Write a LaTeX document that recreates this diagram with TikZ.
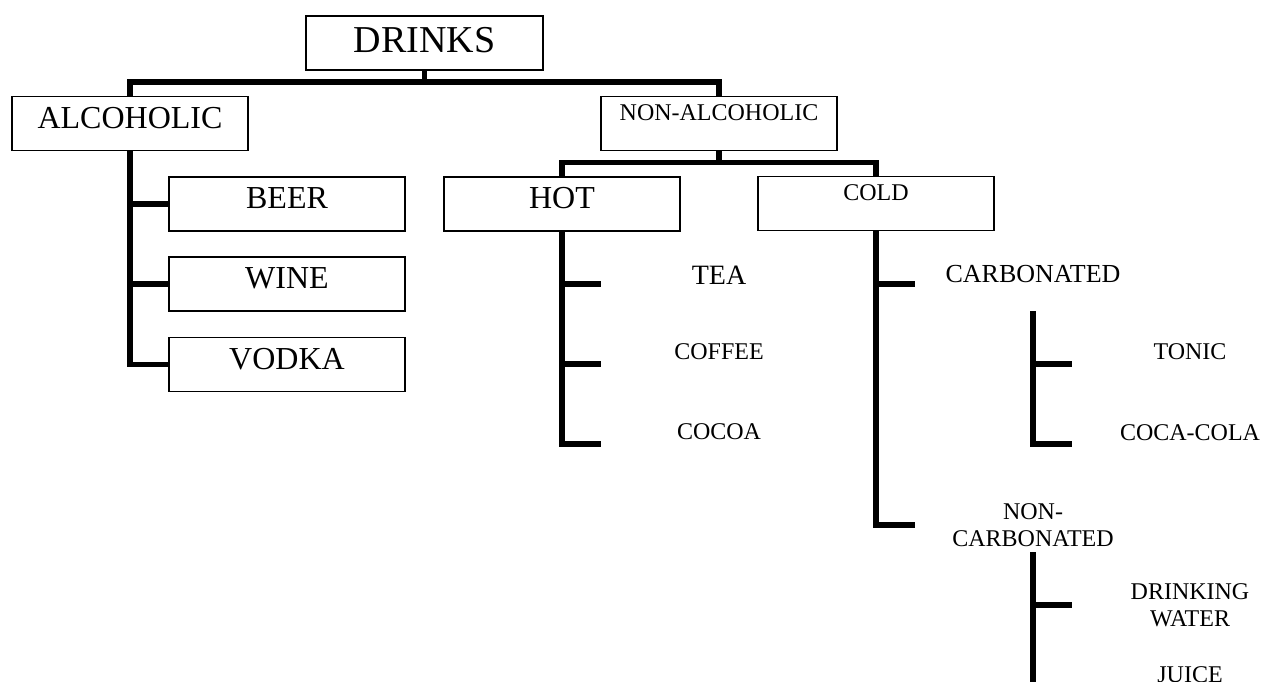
\documentclass[tikz,border=0pt]{standalone}
\usepackage{fontspec}
\setmainfont{Liberation Serif}
\begin{document}
\begin{tikzpicture}[x=1pt,y=-1pt]
            \tikzstyle{every node}+=[inner sep=0pt]
            \tikzstyle{box}=[draw=black,line width=1.2pt,minimum width=236pt,minimum height=54pt]
            \tikzstyle{leaf}=[minimum width=236pt,minimum height=54pt,align=center,font=\fontsize{24}{27}\selectfont]
            \tikzstyle{leaftop}=[leaf,text depth=24pt]
            \tikzstyle{trunk}=[black,line width=5.5pt]
            \useasboundingbox (0,0) rectangle (1261,682);
            \node [box,minimum width=237pt,text depth=6pt,font=\fontsize{38}{44}\selectfont] (drinks) at (424.5,43) {DRINKS};
            \node [box,text depth=11pt,font=\fontsize{32}{38}\selectfont] (alc) at (130,123.5) {ALCOHOLIC};
            \node [box,text depth=21pt,font=\fontsize{24}{28}\selectfont] (nonalc) at (719,123.5) {NON-ALCOHOLIC};
            \node [box,text depth=11pt,font=\fontsize{32}{38}\selectfont] (beer) at (287,204) {BEER};
            \node [box,text depth=11pt,font=\fontsize{32}{38}\selectfont] (wine) at (287,284) {WINE};
            \node [box,text depth=11pt,font=\fontsize{32}{38}\selectfont] (vodka) at (287,364.5) {VODKA};
            \node [box,text depth=12pt,font=\fontsize{32}{38}\selectfont] (hot) at (562,204) {HOT};
            \node [box,text depth=22pt,font=\fontsize{24}{28}\selectfont] (cold) at (876,203.5) {COLD};
            \node [leaftop,text depth=18pt,font=\fontsize{28}{32}\selectfont] (tea) at (719,284) {TEA};
            \node [leaftop] (coffee) at (719,364) {COFFEE};
            \node [leaftop] (cocoa) at (719,444) {COCOA};
            \node [leaftop,text depth=20pt,font=\fontsize{26}{30}\selectfont] (carb) at (1033,284) {CARBONATED};
            \node [leaftop] (tonic) at (1190,364) {TONIC};
            \node [leaftop,text depth=22pt] (cola) at (1190,444) {COCA-COLA};
            \node [leaf] (noncarb) at (1033,525) {NON-\\CARBONATED};
            \node [leaf] (water) at (1190,605) {DRINKING\\WATER};
            \node [leaftop] (juice) at (1190,687) {JUICE};
            \draw [trunk] (drinks.south) -- ++(0,13);
            \draw [trunk] (alc.north) -- ++(0,-14) -| (nonalc.north);
            \draw [trunk] (alc.south) |- (vodka.west);
            \draw [trunk] (alc.south |- beer.west) -- (beer.west);
            \draw [trunk] (alc.south |- wine.west) -- (wine.west);
            \draw [trunk] (nonalc.south) -- ++(0,13);
            \draw [trunk] (hot.north) -- ++(0,-14) -| (cold.north);
            \draw [trunk] (hot.south) |- (cocoa.west);
            \draw [trunk] (hot.south |- tea.west) -- (tea.west);
            \draw [trunk] (hot.south |- coffee.west) -- (coffee.west);
            \draw [trunk] (cold.south) |- (noncarb.west);
            \draw [trunk] (cold.south |- carb.west) -- (carb.west);
            \draw [trunk] (carb.south) |- (cola.west);
            \draw [trunk] (carb.south |- tonic.west) -- (tonic.west);
            \draw [trunk] (noncarb.south) |- (juice.west);
            \draw [trunk] (noncarb.south |- water.west) -- (water.west);
\end{tikzpicture}
\end{document}
